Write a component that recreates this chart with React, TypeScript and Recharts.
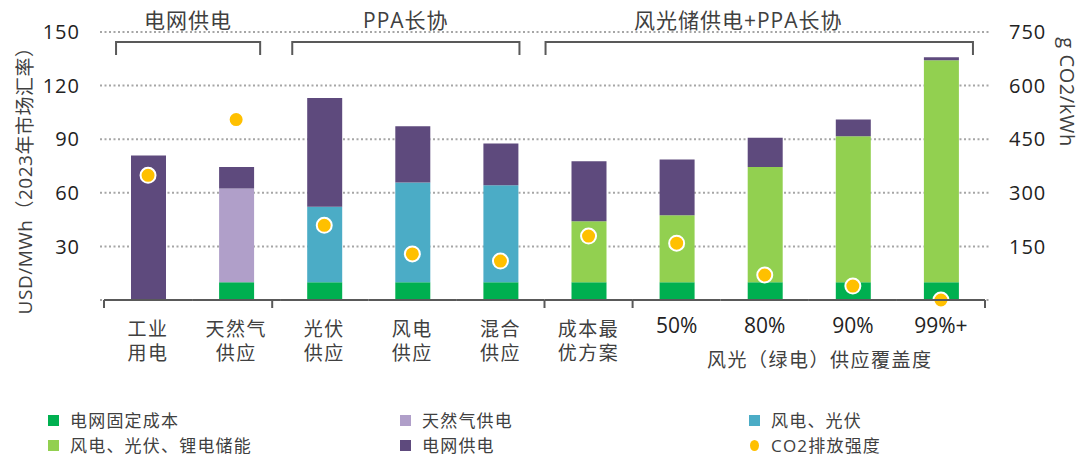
import React from 'react';
import { ComposedChart, Bar, Scatter, XAxis, YAxis, CartesianGrid, Legend } from 'recharts';

// ---------- data ----------
const categories = ['工业用电', '天然气供应', '光伏供应', '风电供应', '混合供应', '成本最优方案', '50%', '80%', '90%', '99%+'];
const tickLabelLines = [['工业', '用电'], ['天然气', '供应'], ['光伏', '供应'], ['风电', '供应'], ['混合', '供应'], ['成本最', '优方案'], ['50%'], ['80%'], ['90%'], ['99%+']];
const gridFixedCost = [0, 10, 10, 10, 10, 10, 10, 10, 10, 10];
const gasSupply = [0, 52.4, 0, 0, 0, 0, 0, 0, 0, 0];
const windSolar = [0, 0, 42.2, 55.8, 54.2, 0, 0, 0, 0, 0];
const windSolarStorage = [0, 0, 0, 0, 0, 34.1, 37.5, 64.5, 81.7, 124.2];
const gridSupply = [80.9, 12.1, 60.9, 31.5, 23.4, 33.6, 31.1, 16.3, 9.3, 1.7];
const co2Intensity = [349, 505, 209, 129, 109, 179, 159, 70, 39, 0];

const groupLabels = ['电网供电', 'PPA长协', '风光储供电+PPA长协'];
const groupFirst = [0, 2, 5];
const groupLast = [1, 4, 9];
const subAxisTitle = '风光（绿电）供应覆盖度';
const leftTicks = [0, 30, 60, 90, 120, 150];
const rightTicks = [0, 150, 300, 450, 600, 750];
const leftAxisTitle = 'USD/MWh（2023年市场汇率）';
const rightAxisTitle = 'g CO2/kWh';

const seriesKeys = ['fixed', 'gas', 'windSolar', 'storage', 'grid', 'co2'];
const seriesNames = ['电网固定成本', '天然气供电', '风电、光伏', '风电、光伏、锂电储能', '电网供电', 'CO2排放强度'];

const data = categories.map((name, i) => ({
  name,
  fixed: gridFixedCost[i],
  gas: gasSupply[i],
  windSolar: windSolar[i],
  storage: windSolarStorage[i],
  grid: gridSupply[i],
  co2: co2Intensity[i],
}));

// ---------- styles ----------
const FONT = "'Open Sans','Noto Sans CJK SC',sans-serif";
const seriesColors = ['#00B050', '#B09FC9', '#4BACC6', '#92D050', '#5E4A7D', '#FFC000'];
const AXIS_COLOR = '#595959';
const TEXT_COLOR = '#404040';
const NUM_COLOR = '#222222';
const bracketStyle = [
  { l: -32, r: 24, shift: 0 },
  { l: -32, r: 19, shift: 0 },
  { l: -43, r: 32, shift: -21 },
];
const boundaryBefore = [0, 2, 5, 6];
const boundaryShift: Record<number, number> = { 2: -8 };

const W = 1085;
const H = 456;

const TopTick = (props: any) => {
  const { x, y, payload } = props;
  const i = categories.indexOf(payload.value);
  const g = groupFirst.indexOf(i);
  if (g < 0) return <g />;
  const half = payload.offset ?? 44;
  const band = 2 * half;
  const xEnd = x + (groupLast[g] - i) * band;
  const L = x + bracketStyle[g].l;
  const R = xEnd + bracketStyle[g].r;
  const cx = (L + R) / 2 + bracketStyle[g].shift;
  return (
    <g>
      <text x={cx} y={y - 12} textAnchor="middle" dominantBaseline="central" fontSize={21} letterSpacing={1} fill={TEXT_COLOR} fontFamily={FONT}>
        {groupLabels[g]}
      </text>
      <path d={`M${L},${y + 23} V${y + 10} H${R} V${y + 23}`} fill="none" stroke={AXIS_COLOR} strokeWidth={2} />
    </g>
  );
};

const BottomTick = (props: any) => {
  const { x, y, payload } = props;
  const i = categories.indexOf(payload.value);
  const half = payload.offset ?? 44;
  const lines = tickLabelLines[i] || [];
  const isNum = lines.length === 1;
  const last = i === categories.length - 1;
  return (
    <g>
      <line x1={x - half} x2={x + half} y1={y} y2={y} stroke={AXIS_COLOR} strokeWidth={2} />
      {boundaryBefore.includes(i) && (
        <line x1={x - half + (boundaryShift[i] || 0)} x2={x - half + (boundaryShift[i] || 0)} y1={y} y2={y + 8} stroke={AXIS_COLOR} strokeWidth={2} />
      )}
      {last && <line x1={x + half} x2={x + half} y1={y} y2={y + 8} stroke={AXIS_COLOR} strokeWidth={2} />}
      {isNum ? (
        <text x={x} y={y + 25} textAnchor="middle" dominantBaseline="central" fontSize={21} fill={NUM_COLOR} fontFamily={FONT}>
          {lines[0]}
        </text>
      ) : (
        lines.map((l, k) => (
          <text key={k} x={x} y={y + 29 + 24 * k} textAnchor="middle" dominantBaseline="central" fontSize={19} letterSpacing={1.5} fill={TEXT_COLOR} fontFamily={FONT}>
            {l}
          </text>
        ))
      )}
      {i === 7 && (
        <text x={x + half * 1.25} y={y + 60} textAnchor="middle" dominantBaseline="central" fontSize={19} letterSpacing={1.5} fill={TEXT_COLOR} fontFamily={FONT}>
          {subAxisTitle}
        </text>
      )}
    </g>
  );
};

const LeftTitle = (props: any) => {
  const vb = props.viewBox || { x: 0, y: 0, width: 0, height: 0 };
  const cx = vb.x + 17;
  const cy = vb.y + vb.height / 2 + 10;
  return (
    <text x={cx} y={cy} transform={`rotate(-90 ${cx} ${cy})`} textAnchor="middle" dominantBaseline="central" fontSize={19} letterSpacing={0.5} fill={TEXT_COLOR} fontFamily={FONT}>
      {leftAxisTitle}
    </text>
  );
};

const RightTitle = (props: any) => {
  const vb = props.viewBox || { x: 0, y: 0, width: 0, height: 0 };
  const cx = vb.x + 77;
  const cy = vb.y + 60;
  return (
    <text x={cx} y={cy} transform={`rotate(90 ${cx} ${cy})`} textAnchor="middle" dominantBaseline="central" fontSize={20} letterSpacing={0.6} fill={TEXT_COLOR} fontFamily={FONT}>
      {rightAxisTitle}
    </text>
  );
};

const Dot = (props: any) => {
  const { cx, cy } = props;
  if (cx == null || cy == null) return <g />;
  return <circle cx={cx} cy={cy} r={7.5} fill={seriesColors[5]} stroke="#ffffff" strokeWidth={2} />;
};

const LegendContent = () => (
  <div
    style={{
      display: 'grid',
      gridTemplateColumns: '352px 349px auto',
      gridAutoRows: '25px',
      paddingLeft: 48,
      fontFamily: FONT,
      fontSize: 17,
      lineHeight: '20px',
      letterSpacing: 1.2,
      color: TEXT_COLOR,
      alignItems: 'center',
    }}
  >
    {seriesKeys.map((k, i) => (
      <div key={k} style={{ display: 'flex', alignItems: 'center', height: 25 }}>
        {k === 'co2' ? (
          <span style={{ width: 9, height: 11, borderRadius: '50%', background: seriesColors[i], display: 'inline-block', marginLeft: 1, marginRight: 12 }} />
        ) : (
          <span style={{ width: 11, height: 11, background: seriesColors[i], display: 'inline-block', marginRight: 11 }} />
        )}
        <span>{seriesNames[i]}</span>
      </div>
    ))}
  </div>
);

export default function App() {
  return (
    <div style={{ position: 'absolute', left: 0, top: 0, width: W, height: H, background: '#fff' }}>
      <ComposedChart width={W} height={H} data={data} margin={{ top: 8, right: 0, bottom: 104, left: 8 }}>
        <CartesianGrid yAxisId="left" vertical={false} stroke="#a6a6a6" strokeDasharray="2 2.5" strokeWidth={2} />
        <XAxis
          xAxisId="top"
          orientation="top"
          dataKey="name"
          height={24}
          axisLine={false}
          tickLine={false}
          tickSize={0}
          tickMargin={0}
          interval={0}
          padding={{ left: 4, right: 5 }}
          tick={TopTick}
        />
        <XAxis
          dataKey="name"
          height={52}
          axisLine={false}
          tickLine={false}
          tickSize={0}
          tickMargin={0}
          interval={0}
          padding={{ left: 4, right: 5 }}
          tick={BottomTick}
        />
        <YAxis
          yAxisId="left"
          width={92}
          domain={[0, 150]}
          ticks={leftTicks}
          tickFormatter={(v: number) => (v === 0 ? '' : String(v))}
          axisLine={false}
          tickLine={false}
          tickSize={0}
          tickMargin={20}
          tick={{ fill: NUM_COLOR, fontSize: 20, fontFamily: FONT, letterSpacing: 1 }}
          label={<LeftTitle />}
        />
        <YAxis
          yAxisId="right"
          orientation="right"
          width={95}
          domain={[0, 750]}
          ticks={rightTicks}
          tickFormatter={(v: number) => (v === 0 ? '' : String(v))}
          axisLine={false}
          tickLine={false}
          tickSize={0}
          tickMargin={19}
          tick={{ fill: NUM_COLOR, fontSize: 20, fontFamily: FONT, letterSpacing: 1, textAnchor: 'start' }}
          label={<RightTitle />}
        />
        {seriesKeys.slice(0, 5).map((k, i) => (
          <Bar key={k} dataKey={k} name={seriesNames[i]} stackId="a" yAxisId="left" fill={seriesColors[i]} barSize={35} isAnimationActive={false} />
        ))}
        <Scatter dataKey="co2" name={seriesNames[5]} yAxisId="right" fill={seriesColors[5]} shape={Dot} isAnimationActive={false} />
        <Legend
          layout="horizontal"
          verticalAlign="middle"
          align="center"
          content={LegendContent}
          wrapperStyle={{ top: 408, left: 0, width: W }}
        />
      </ComposedChart>
    </div>
  );
}
